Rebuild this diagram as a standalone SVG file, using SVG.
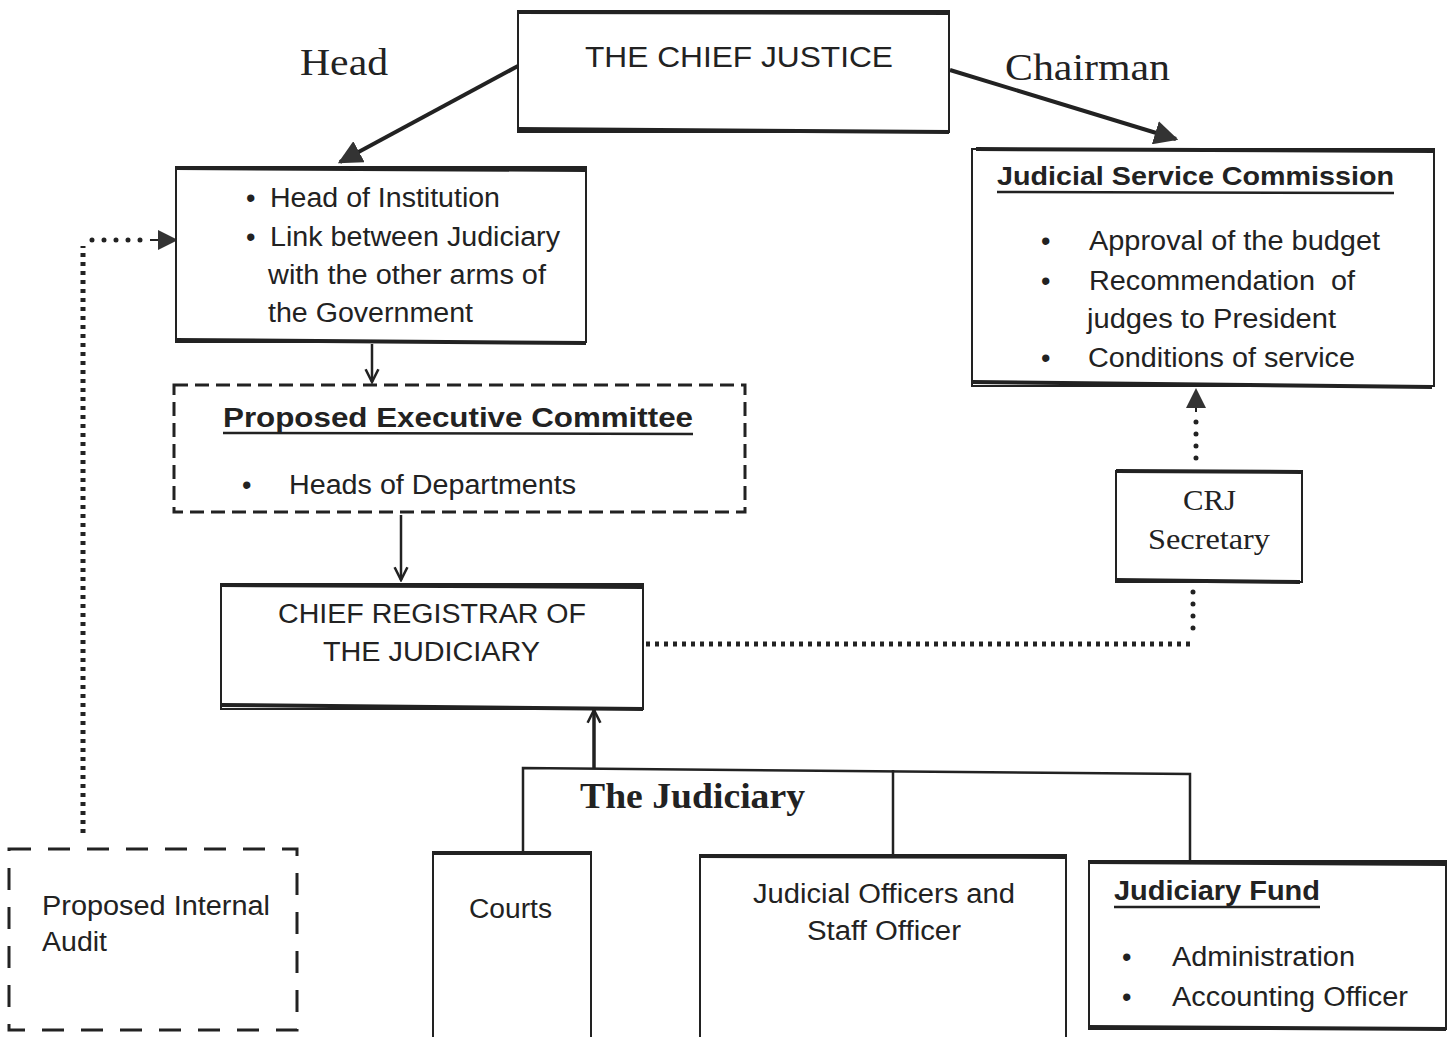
<svg xmlns="http://www.w3.org/2000/svg" width="1454" height="1037" viewBox="0 0 1454 1037">
<defs>
<style>
.box{fill:#fff;stroke:#222;stroke-width:2}
.edge{stroke:#222;stroke-width:4}
.dash1{fill:none;stroke:#222;stroke-width:3;stroke-dasharray:14 7}
.dash2{fill:none;stroke:#222;stroke-width:3;stroke-dasharray:22 17}
.sans{font-family:"Liberation Sans",Arial,sans-serif;fill:#222}
.serif{font-family:"Liberation Serif","Times New Roman",serif;fill:#222}
.t26{font-size:27px}
.line{fill:none;stroke:#222;stroke-width:2.5}
.dotsq{fill:none;stroke:#222;stroke-width:5;stroke-dasharray:4 5}
.dotrd{fill:none;stroke:#222;stroke-width:5;stroke-linecap:round;stroke-dasharray:0 12}
</style>
<marker id="big" viewBox="0 0 10 10" refX="9" refY="5" markerWidth="6" markerHeight="6" orient="auto">
<path d="M0,0 L10,5 L0,10 z" fill="#333"/>
</marker>
<marker id="opn" viewBox="0 0 10 10" refX="9" refY="5" markerWidth="16" markerHeight="16" orient="auto" markerUnits="userSpaceOnUse">
<path d="M1,1 L9,5 L1,9" fill="none" stroke="#222" stroke-width="1.6"/>
</marker>
<marker id="dotarr" viewBox="0 0 10 10" refX="9" refY="5" markerWidth="20" markerHeight="20" orient="auto" markerUnits="userSpaceOnUse">
<path d="M0,0 L10,5 L0,10 z" fill="#333"/>
</marker>
</defs>
<rect width="1454" height="1037" fill="#fff"/>

<g id="connectors">
<line x1="518" y1="66" x2="340" y2="162" class="edge" marker-end="url(#big)"/>
<line x1="950" y1="70" x2="1176" y2="139" class="edge" marker-end="url(#big)"/>
<line x1="372" y1="344" x2="372" y2="382" class="line" stroke-width="2" marker-end="url(#opn)"/>
<line x1="401" y1="515" x2="401" y2="580" class="line" stroke-width="2" marker-end="url(#opn)"/>
<line x1="594" y1="768" x2="594" y2="710" stroke="#222" stroke-width="3.5" marker-end="url(#opn)"/>
<polyline points="523,852 523,768 1190,774 1190,860" class="line"/>
<line x1="893" y1="770" x2="893" y2="855" class="line"/>
<polyline points="83,833 83,246" class="dotsq"/>
<polyline points="92,240 150,240" class="dotrd"/>
<line x1="150" y1="240" x2="176" y2="240" stroke="#222" stroke-width="2" marker-end="url(#dotarr)"/>
<line x1="1196" y1="458" x2="1196" y2="416" class="dotrd"/>
<line x1="1196" y1="412" x2="1196" y2="390" stroke="#222" stroke-width="2" marker-end="url(#dotarr)"/>
<polyline points="1193,592 1193,632" class="dotrd"/>
<polyline points="646,644 1193,644" class="dotsq"/>
</g>

<g id="chief-justice">
<rect x="518" y="11" width="431" height="121" class="box"/>
<line x1="518" y1="12" x2="949" y2="13" class="edge"/>
<line x1="518" y1="129" x2="949" y2="132" class="edge"/>
<text x="585" y="67" class="sans" font-size="29" textLength="308" lengthAdjust="spacingAndGlyphs">THE CHIEF JUSTICE</text>
</g>

<g id="label-head"><text x="300" y="75" class="serif" font-size="38" textLength="88" lengthAdjust="spacingAndGlyphs">Head</text></g>
<g id="label-chairman"><text x="1005" y="80" class="serif" font-size="38" textLength="165" lengthAdjust="spacingAndGlyphs">Chairman</text></g>

<g id="head-box">
<rect x="176" y="167" width="410" height="175" class="box"/>
<line x1="176" y1="168" x2="586" y2="170" class="edge"/>
<line x1="175" y1="340" x2="586" y2="343" class="edge"/>
<g class="sans t26">
<text x="246" y="207">•</text><text x="270" y="207" textLength="230" lengthAdjust="spacingAndGlyphs">Head of Institution</text>
<text x="246" y="246">•</text><text x="270" y="246" textLength="290" lengthAdjust="spacingAndGlyphs">Link between Judiciary</text>
<text x="268" y="284" textLength="278" lengthAdjust="spacingAndGlyphs">with the other arms of</text>
<text x="268" y="322" textLength="205" lengthAdjust="spacingAndGlyphs">the Government</text>
</g>
</g>

<g id="executive-committee">
<rect x="174" y="385" width="571" height="127" class="dash1"/>
<text x="223" y="427" class="sans" font-size="27" font-weight="bold" textLength="470" lengthAdjust="spacingAndGlyphs">Proposed Executive Committee</text>
<line x1="223" y1="433" x2="693" y2="434" stroke="#222" stroke-width="2.5"/>
<text x="242" y="494" class="sans t26">•</text>
<text x="289" y="494" class="sans t26" textLength="287" lengthAdjust="spacingAndGlyphs">Heads of Departments</text>
</g>

<g id="chief-registrar">
<rect x="221" y="584" width="422" height="125" class="box"/>
<line x1="221" y1="585" x2="643" y2="587" class="edge"/>
<line x1="221" y1="705" x2="643" y2="709" class="edge"/>
<text x="278" y="623" class="sans" font-size="27" textLength="308" lengthAdjust="spacingAndGlyphs">CHIEF REGISTRAR OF</text>
<text x="323" y="661" class="sans" font-size="27" textLength="217" lengthAdjust="spacingAndGlyphs">THE JUDICIARY</text>
</g>

<g id="jsc">
<rect x="972" y="149" width="462" height="237" class="box"/>
<line x1="976" y1="149" x2="1434" y2="151" class="edge"/>
<line x1="972" y1="382" x2="1432" y2="387" class="edge"/>
<text x="997" y="185" class="sans" font-size="26" font-weight="bold" textLength="397" lengthAdjust="spacingAndGlyphs">Judicial Service Commission</text>
<line x1="997" y1="192" x2="1394" y2="193" stroke="#222" stroke-width="2.5"/>
<g class="sans t26">
<text x="1041" y="250">•</text><text x="1089" y="250" textLength="291" lengthAdjust="spacingAndGlyphs">Approval of the budget</text>
<text x="1041" y="290">•</text><text x="1089" y="290" xml:space="preserve" textLength="266" lengthAdjust="spacingAndGlyphs">Recommendation  of</text>
<text x="1087" y="328" textLength="249" lengthAdjust="spacingAndGlyphs">judges to President</text>
<text x="1041" y="367">•</text><text x="1088" y="367" textLength="267" lengthAdjust="spacingAndGlyphs">Conditions of service</text>
</g>
</g>

<g id="crj-secretary">
<rect x="1116" y="471" width="186" height="111" class="box"/>
<line x1="1116" y1="471" x2="1302" y2="472" class="edge"/>
<line x1="1116" y1="580" x2="1300" y2="582" class="edge"/>
<text x="1183" y="510" class="serif" font-size="29" textLength="53" lengthAdjust="spacingAndGlyphs">CRJ</text>
<text x="1148" y="549" class="serif" font-size="29" textLength="122" lengthAdjust="spacingAndGlyphs">Secretary</text>
</g>

<g id="the-judiciary">
<text x="580" y="808" class="serif" font-size="35" font-weight="bold" textLength="225" lengthAdjust="spacingAndGlyphs">The Judiciary</text>
</g>

<g id="courts">
<rect x="433" y="852" width="158" height="190" class="box"/>
<line x1="433" y1="853" x2="591" y2="853" class="edge"/>
<text x="469" y="918" class="sans t26" textLength="83" lengthAdjust="spacingAndGlyphs">Courts</text>
</g>

<g id="judicial-officers">
<rect x="700" y="855" width="366" height="190" class="box"/>
<line x1="700" y1="856" x2="1066" y2="857" class="edge"/>
<text x="753" y="903" class="sans t26" textLength="262" lengthAdjust="spacingAndGlyphs">Judicial Officers and</text>
<text x="807" y="940" class="sans t26" textLength="154" lengthAdjust="spacingAndGlyphs">Staff Officer</text>
</g>

<g id="judiciary-fund">
<rect x="1089" y="861" width="357" height="168" class="box"/>
<line x1="1089" y1="862" x2="1446" y2="864" class="edge"/>
<line x1="1089" y1="1027" x2="1446" y2="1029" class="edge"/>
<text x="1114" y="900" class="sans" font-size="27" font-weight="bold" textLength="206" lengthAdjust="spacingAndGlyphs">Judiciary Fund</text>
<line x1="1114" y1="907" x2="1320" y2="907" stroke="#222" stroke-width="2.5"/>
<g class="sans t26">
<text x="1122" y="966">•</text><text x="1172" y="966" textLength="183" lengthAdjust="spacingAndGlyphs">Administration</text>
<text x="1122" y="1006">•</text><text x="1172" y="1006" textLength="236" lengthAdjust="spacingAndGlyphs">Accounting Officer</text>
</g>
</g>

<g id="internal-audit">
<rect x="9" y="849" width="288" height="181" class="dash2"/>
<text x="42" y="915" class="sans t26" textLength="228" lengthAdjust="spacingAndGlyphs">Proposed Internal</text>
<text x="42" y="951" class="sans t26" textLength="65" lengthAdjust="spacingAndGlyphs">Audit</text>
</g>
</svg>
